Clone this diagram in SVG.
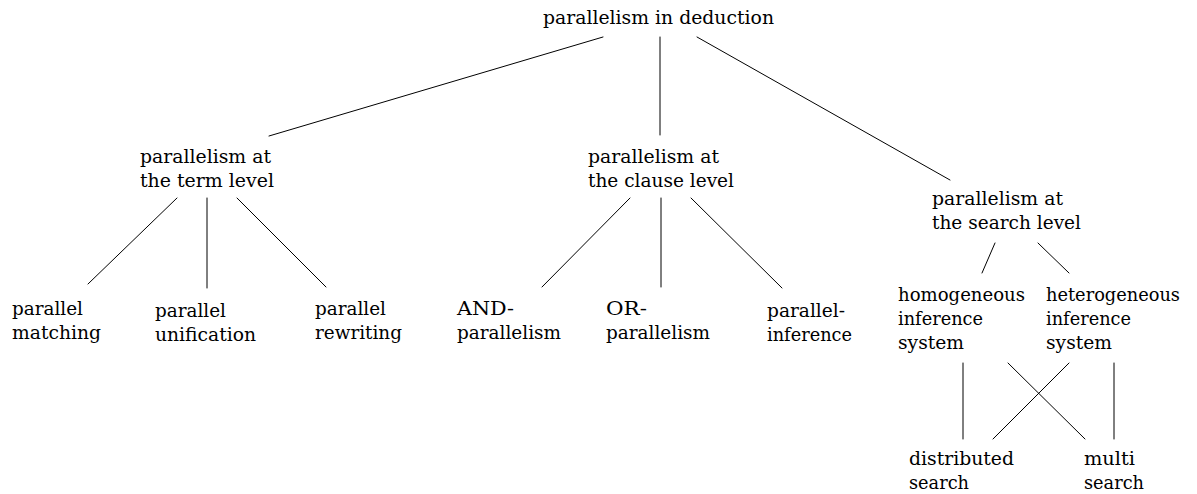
<svg xmlns="http://www.w3.org/2000/svg" width="1197" height="494" viewBox="0 0 1197 494" font-family="'DejaVu Serif', serif">
  <style>
    text { font-family: "DejaVu Serif", serif; font-size: 19px; fill: #000; }
    .edge { stroke: #000; stroke-width: 1; fill: none; stroke-linecap: round; }
  </style>
  <rect width="1197" height="494" fill="#fff"/>

  <!-- tree edges -->
  <g id="connectors">
    <line class="edge" x1="603" y1="37" x2="269" y2="136"/>
    <line class="edge" x1="660" y1="37" x2="660" y2="135"/>
    <line class="edge" x1="697" y1="37" x2="950" y2="180"/>

    <line class="edge" x1="177" y1="198" x2="88" y2="284"/>
    <line class="edge" x1="207" y1="198" x2="207" y2="288"/>
    <line class="edge" x1="237" y1="198" x2="326" y2="287"/>

    <line class="edge" x1="630" y1="198" x2="542" y2="287"/>
    <line class="edge" x1="661" y1="198" x2="661" y2="287"/>
    <line class="edge" x1="691" y1="198" x2="782" y2="288"/>

    <line class="edge" x1="995" y1="243" x2="982" y2="273"/>
    <line class="edge" x1="1038" y1="243" x2="1069" y2="273"/>

    <line class="edge" x1="963" y1="363" x2="963" y2="439"/>
    <line class="edge" x1="1008" y1="363" x2="1085" y2="439"/>
    <line class="edge" x1="1069" y1="363" x2="993" y2="439"/>
    <line class="edge" x1="1114" y1="363" x2="1114" y2="439"/>
  </g>

  <g id="root">
    <text x="543" y="24" textLength="231" lengthAdjust="spacingAndGlyphs">parallelism in deduction</text>
  </g>

  <g id="term-level">
    <text x="140" y="163" textLength="131" lengthAdjust="spacingAndGlyphs">parallelism at</text>
    <text x="140" y="187" textLength="134" lengthAdjust="spacingAndGlyphs">the term level</text>
  </g>
  <g id="clause-level">
    <text x="588" y="163" textLength="131" lengthAdjust="spacingAndGlyphs">parallelism at</text>
    <text x="588" y="187" textLength="146" lengthAdjust="spacingAndGlyphs">the clause level</text>
  </g>
  <g id="search-level">
    <text x="932" y="205" textLength="131" lengthAdjust="spacingAndGlyphs">parallelism at</text>
    <text x="932" y="229" textLength="149" lengthAdjust="spacingAndGlyphs">the search level</text>
  </g>

  <g id="parallel-matching">
    <text x="12" y="315" textLength="71" lengthAdjust="spacingAndGlyphs">parallel</text>
    <text x="12" y="339" textLength="89" lengthAdjust="spacingAndGlyphs">matching</text>
  </g>
  <g id="parallel-unification">
    <text x="155" y="317" textLength="71" lengthAdjust="spacingAndGlyphs">parallel</text>
    <text x="155" y="341" textLength="101" lengthAdjust="spacingAndGlyphs">unification</text>
  </g>
  <g id="parallel-rewriting">
    <text x="315" y="315" textLength="71" lengthAdjust="spacingAndGlyphs">parallel</text>
    <text x="315" y="339" textLength="87" lengthAdjust="spacingAndGlyphs">rewriting</text>
  </g>

  <g id="and-parallelism">
    <text x="457" y="315" textLength="57" lengthAdjust="spacingAndGlyphs">AND-</text>
    <text x="457" y="339" textLength="104" lengthAdjust="spacingAndGlyphs">parallelism</text>
  </g>
  <g id="or-parallelism">
    <text x="606" y="315" textLength="41" lengthAdjust="spacingAndGlyphs">OR-</text>
    <text x="606" y="339" textLength="104" lengthAdjust="spacingAndGlyphs">parallelism</text>
  </g>
  <g id="parallel-inference">
    <text x="767" y="317" textLength="78" lengthAdjust="spacingAndGlyphs">parallel-</text>
    <text x="767" y="341" textLength="85" lengthAdjust="spacingAndGlyphs">inference</text>
  </g>

  <g id="homogeneous-system">
    <text x="898" y="301" textLength="127" lengthAdjust="spacingAndGlyphs">homogeneous</text>
    <text x="898" y="325" textLength="85" lengthAdjust="spacingAndGlyphs">inference</text>
    <text x="898" y="349" textLength="66" lengthAdjust="spacingAndGlyphs">system</text>
  </g>
  <g id="heterogeneous-system">
    <text x="1046" y="301" textLength="134" lengthAdjust="spacingAndGlyphs">heterogeneous</text>
    <text x="1046" y="325" textLength="85" lengthAdjust="spacingAndGlyphs">inference</text>
    <text x="1046" y="349" textLength="66" lengthAdjust="spacingAndGlyphs">system</text>
  </g>

  <g id="distributed-search">
    <text x="909" y="465" textLength="105" lengthAdjust="spacingAndGlyphs">distributed</text>
    <text x="909" y="489" textLength="60" lengthAdjust="spacingAndGlyphs">search</text>
  </g>
  <g id="multi-search">
    <text x="1084" y="465" textLength="51" lengthAdjust="spacingAndGlyphs">multi</text>
    <text x="1084" y="489" textLength="60" lengthAdjust="spacingAndGlyphs">search</text>
  </g>
</svg>
